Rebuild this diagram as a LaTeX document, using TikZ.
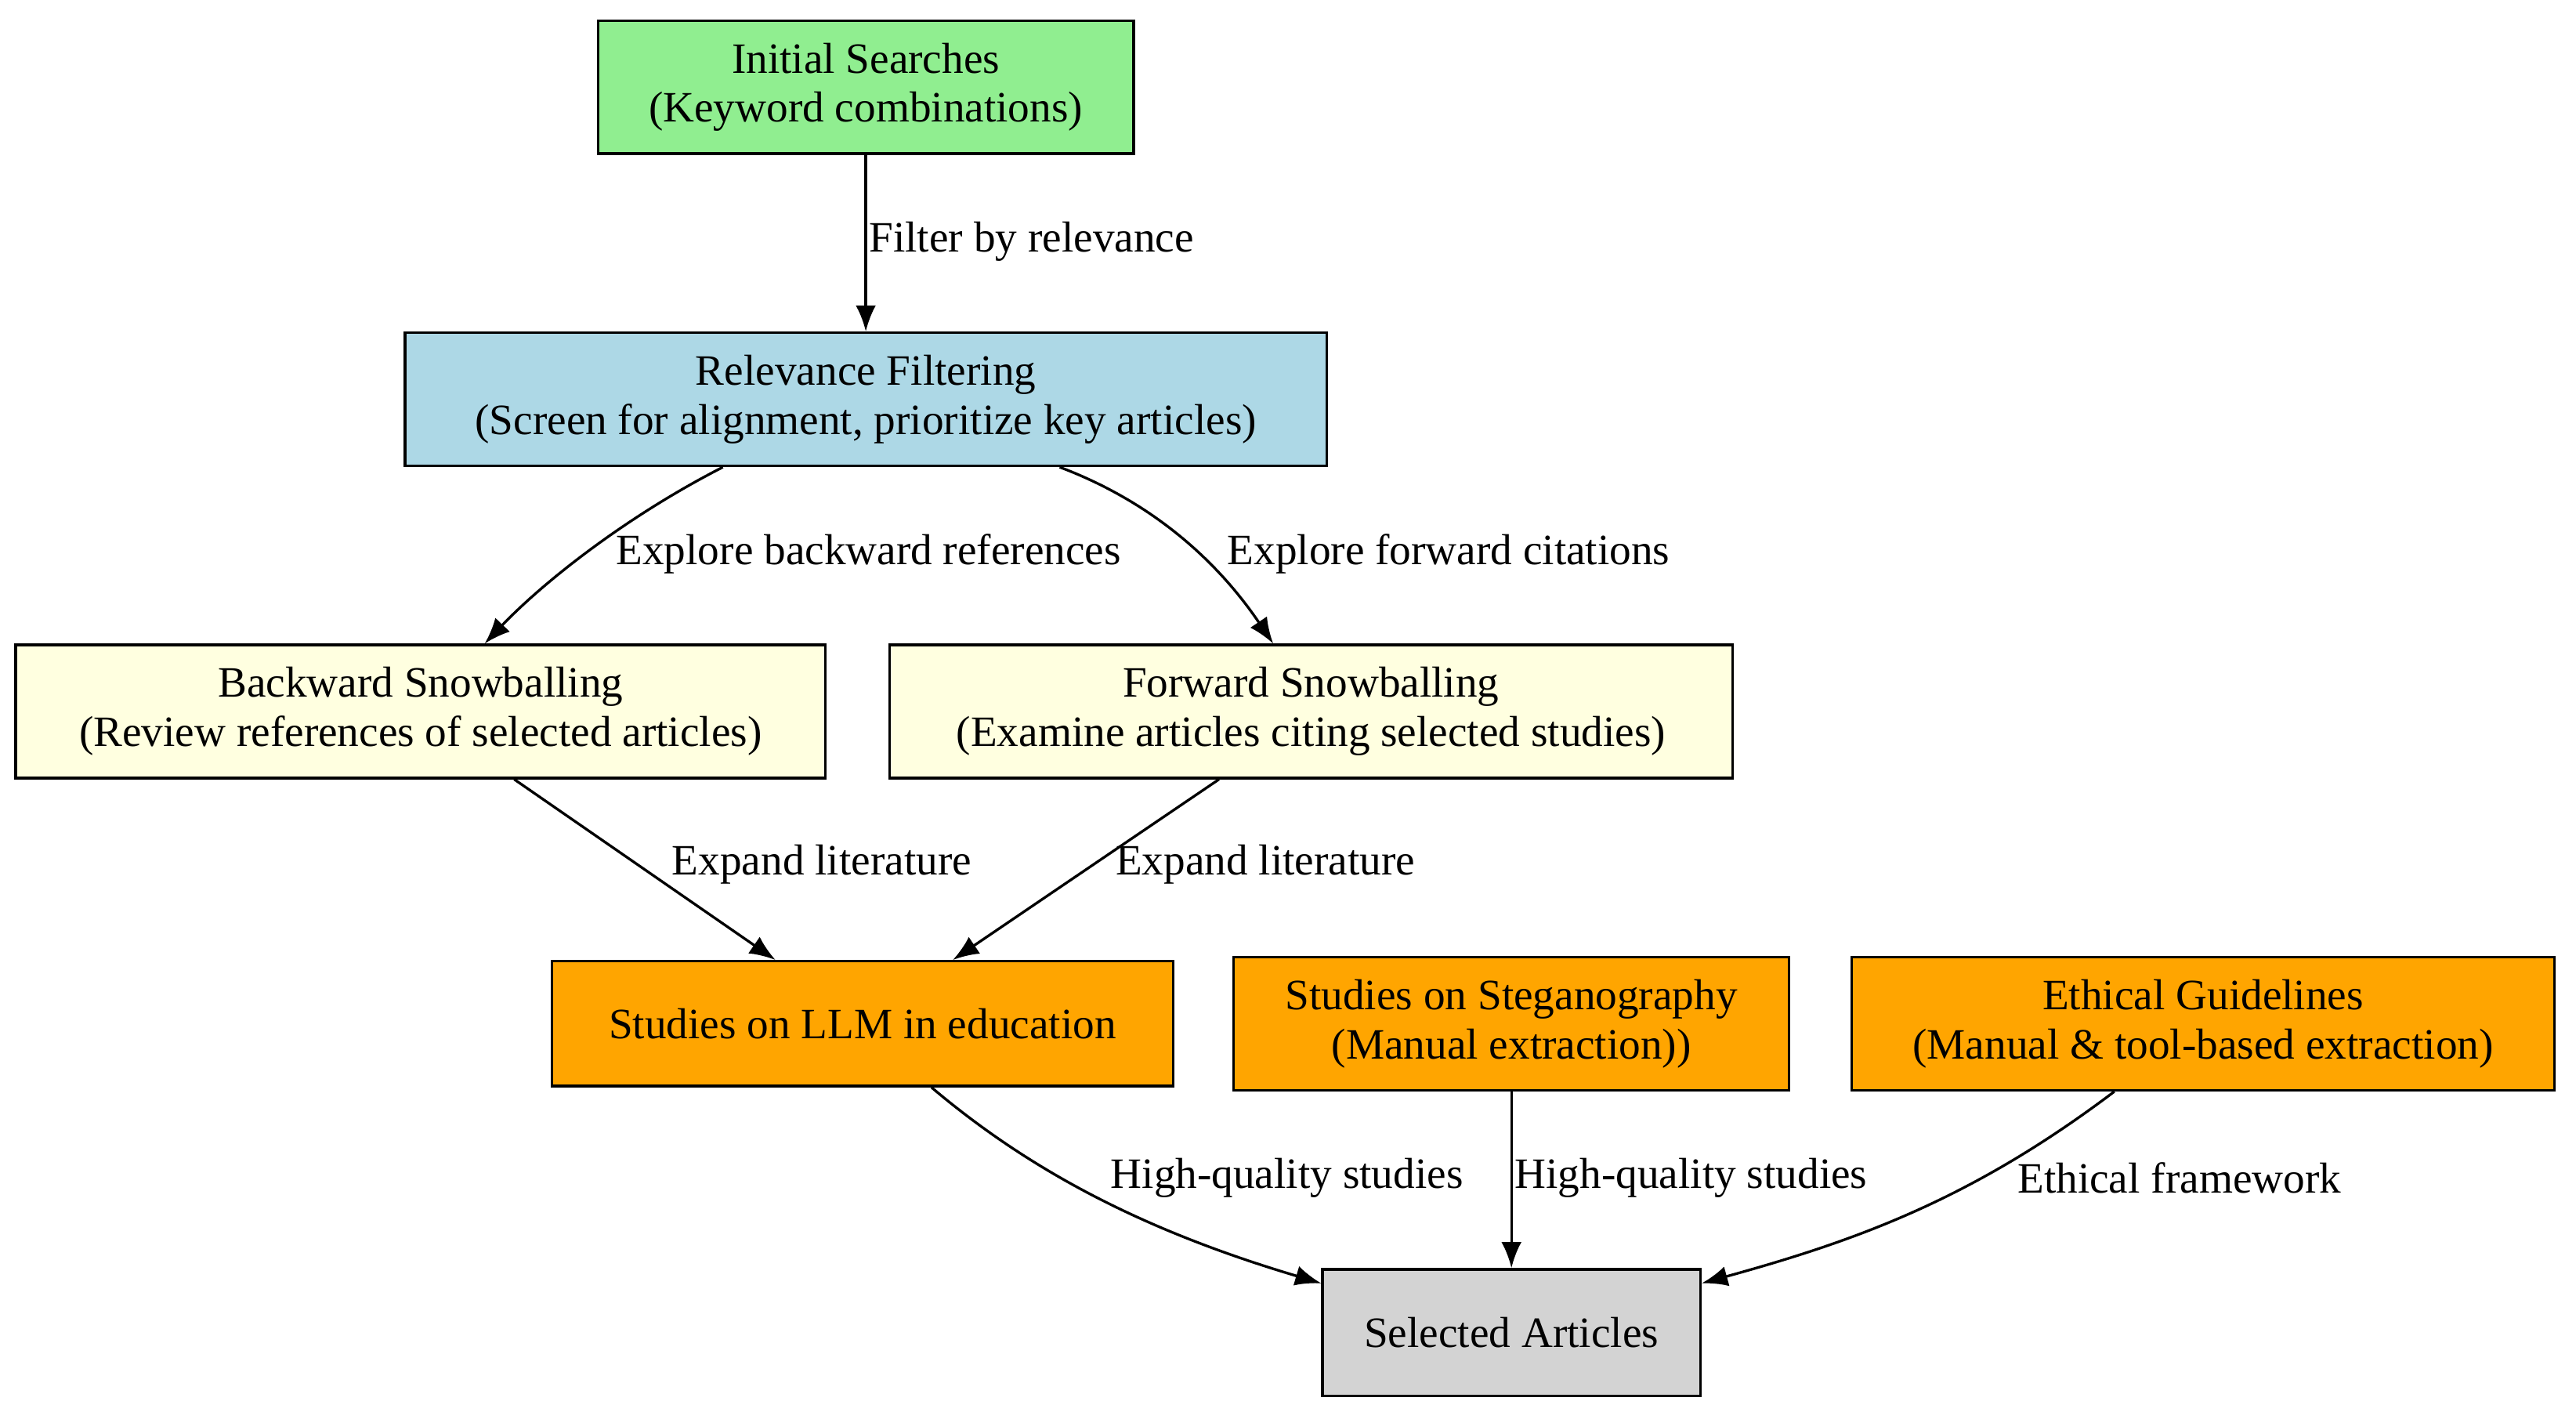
\documentclass[tikz,border=0pt]{standalone}
\usepackage{fontspec}
\setmainfont{Liberation Serif}
\usetikzlibrary{arrows.meta,calc}
\definecolor{lgreen}{HTML}{90EE90}
\definecolor{lblue}{HTML}{ADD8E6}
\definecolor{lyellow}{HTML}{FFFFE0}
\definecolor{orng}{HTML}{FFA500}
\definecolor{lgray}{HTML}{D3D3D3}
\begin{document}
\begin{tikzpicture}[x=0.02cm,y=-0.02cm,
box/.style={draw, line width=0.9pt, align=center, inner sep=0pt, minimum height=81*0.02cm, font=\fontsize{15}{17}\selectfont},
pfeil/.style={-{Latex[length=9pt,width=7pt]}, line width=0.9pt},
lab/.style={font=\fontsize{15}{17}\selectfont, anchor=west, inner sep=1pt},
]
\useasboundingbox (0,0) rectangle (1568,859);

\node[box, fill=lgreen, minimum width=326*0.02cm] (init) at (527,53) {Initial Searches\\(Keyword combinations)};
\node[box, fill=lblue, minimum width=561*0.02cm] (rel) at (527,243) {Relevance Filtering\\(Screen for alignment, prioritize key articles)};
\node[box, fill=lyellow, minimum width=493*0.02cm] (back) at (256,433) {Backward Snowballing\\(Review references of selected articles)};
\node[box, fill=lyellow, minimum width=513*0.02cm] (fwd) at (798,433) {Forward Snowballing\\(Examine articles citing selected studies)};
\node[box, fill=orng, minimum width=378*0.02cm, minimum height=76*0.02cm] (llm) at (525,623) {Studies on LLM in education};
\node[box, fill=orng, minimum width=338*0.02cm] (steg) at (920,623) {Studies on Steganography\\(Manual extraction))};
\node[box, fill=orng, minimum width=428*0.02cm] (eth) at (1341,623) {Ethical Guidelines\\(Manual \& tool-based extraction)};
\node[box, fill=lgray, minimum width=230*0.02cm, minimum height=77*0.02cm] (sel) at (920,811) {Selected Articles};

% edges
\draw[pfeil] (init) -- (rel);
\node[lab] at (527,147) {Filter by relevance};

\draw[pfeil] ($(rel.south)+(-87,0)$) .. controls (380,315) and (330,355) .. ($(back.north)+(39,0)$);
\node[lab] at (373,337) {Explore backward references};
\draw[pfeil] ($(rel.south)+(118,0)$) .. controls (700,305) and (740,340) .. ($(fwd.north)+(-23,0)$);
\node[lab] at (745,337) {Explore forward citations};

\draw[pfeil] ($(back.south)+(57,0)$) -- ($(llm.north)+(-53,0)$);
\node[lab] at (407,526) {Expand literature};
\draw[pfeil] ($(fwd.south)+(-56,0)$) -- ($(llm.north)+(55,0)$);
\node[lab] at (677,526) {Expand literature};

\draw[pfeil] ($(llm.south)+(42,0)$) .. controls (630,715) and (700,750) .. ($(sel.west)+(0,-30)$);
\node[lab] at (674,717) {High-quality studies};
\draw[pfeil] (steg) -- (sel);
\node[lab] at (920,717) {High-quality studies};
\draw[pfeil] ($(eth.south)+(-54,0)$) .. controls (1200,730) and (1130,755) .. ($(sel.east)+(0,-30)$);
\node[lab] at (1226,717) {Ethical framework};
\end{tikzpicture}
\end{document}
